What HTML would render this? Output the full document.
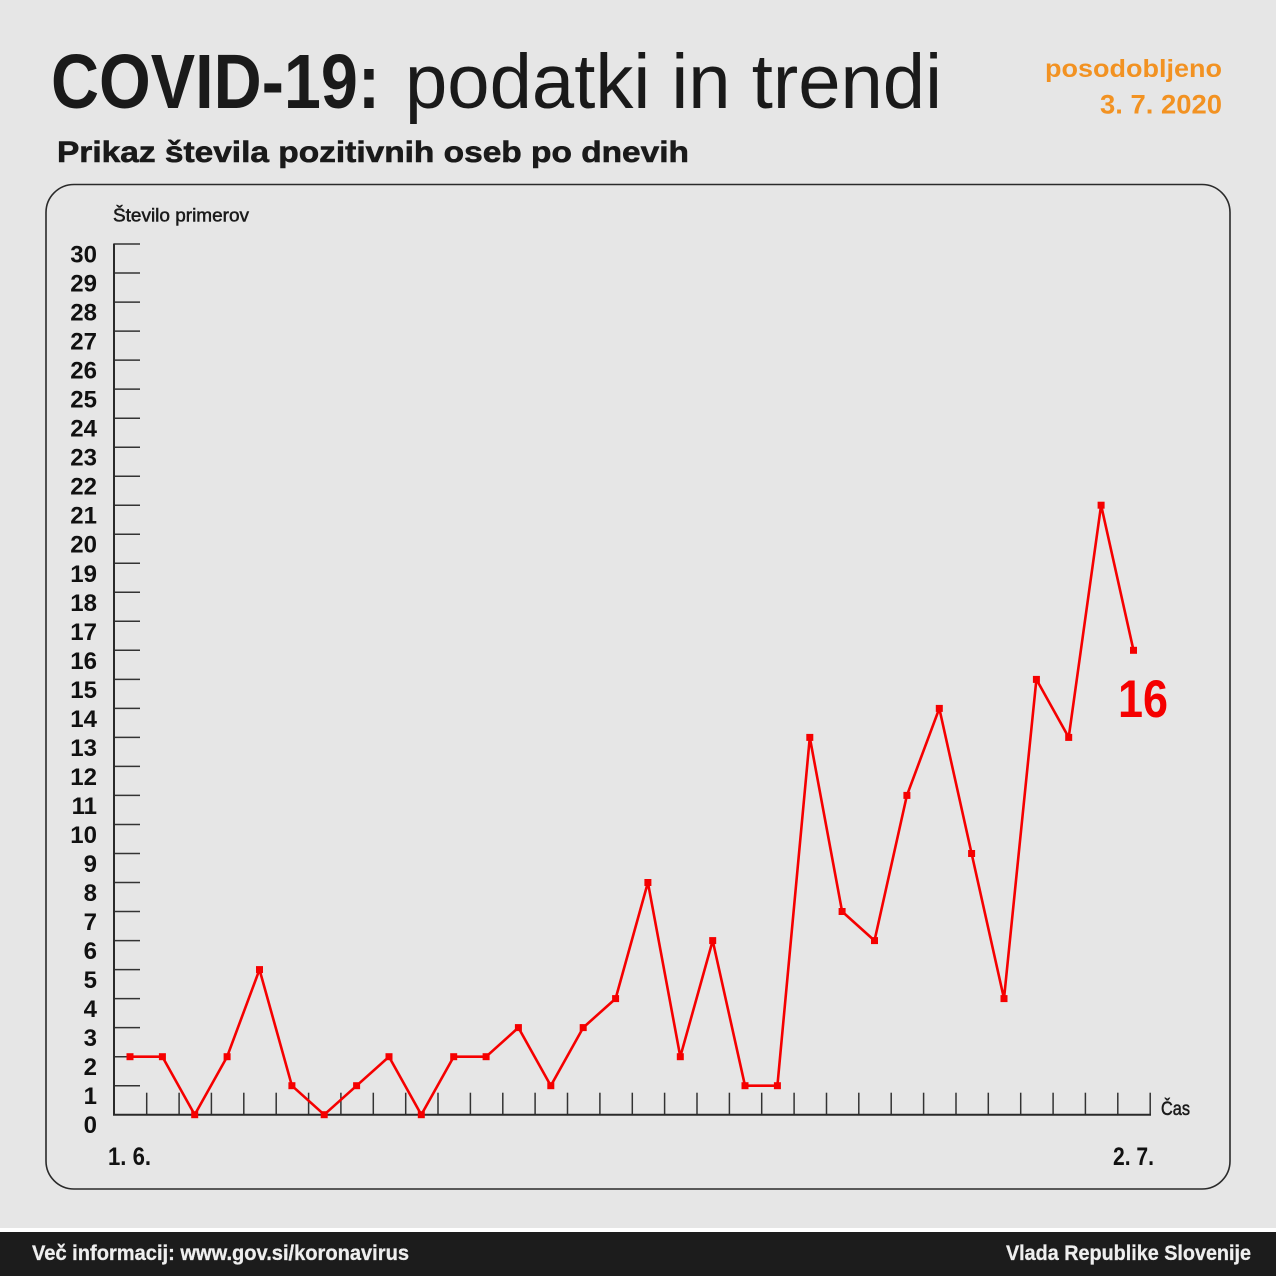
<!DOCTYPE html>
<html>
<head>
<meta charset="utf-8">
<style>
html,body{margin:0;padding:0;background:#e6e6e6;}
svg{display:block;}
text{font-family:"Liberation Sans",sans-serif;}
</style>
</head>
<body>
<svg width="1276" height="1276" viewBox="0 0 1276 1276" xmlns="http://www.w3.org/2000/svg">
<rect x="0" y="0" width="1276" height="1276" fill="#e6e6e6"/>
<rect x="0" y="1228" width="1276" height="4" fill="#ffffff"/>
<rect x="0" y="1232" width="1276" height="44" fill="#1c1c1c"/>

<!-- Title -->
<text x="51" y="108" font-size="77" font-weight="bold" fill="#1a1a1a" textLength="329" lengthAdjust="spacingAndGlyphs">COVID-19:</text>
<text x="405" y="108" font-size="77" font-weight="300" fill="#1a1a1a" textLength="537" lengthAdjust="spacingAndGlyphs">podatki in trendi</text>
<text x="57" y="162" font-size="30" font-weight="bold" fill="#1a1a1a" stroke="#1a1a1a" stroke-width="0.6" textLength="632" lengthAdjust="spacingAndGlyphs">Prikaz števila pozitivnih oseb po dnevih</text>
<text x="1222" y="77" font-size="25" font-weight="bold" fill="#f29222" text-anchor="end" textLength="177" lengthAdjust="spacingAndGlyphs">posodobljeno</text>
<text x="1222" y="113.5" font-size="27" font-weight="bold" fill="#f29222" text-anchor="end" textLength="122" lengthAdjust="spacingAndGlyphs">3. 7. 2020</text>

<!-- Chart frame -->
<rect x="46" y="184.5" width="1184" height="1004.5" rx="28" ry="28" fill="#e6e6e6" stroke="#2a2a2a" stroke-width="1.6"/>

<text x="113" y="221.7" font-size="18" fill="#1a1a1a" stroke="#1a1a1a" stroke-width="0.5" textLength="136" lengthAdjust="spacingAndGlyphs">Število primerov</text>

<!-- Y axis ticks -->
<g stroke="#333" stroke-width="1.5">
<line x1="114" y1="1114.7" x2="140" y2="1114.7"/>
<line x1="114" y1="1085.7" x2="140" y2="1085.7"/>
<line x1="114" y1="1056.7" x2="140" y2="1056.7"/>
<line x1="114" y1="1027.6" x2="140" y2="1027.6"/>
<line x1="114" y1="998.6" x2="140" y2="998.6"/>
<line x1="114" y1="969.6" x2="140" y2="969.6"/>
<line x1="114" y1="940.6" x2="140" y2="940.6"/>
<line x1="114" y1="911.5" x2="140" y2="911.5"/>
<line x1="114" y1="882.5" x2="140" y2="882.5"/>
<line x1="114" y1="853.5" x2="140" y2="853.5"/>
<line x1="114" y1="824.5" x2="140" y2="824.5"/>
<line x1="114" y1="795.4" x2="140" y2="795.4"/>
<line x1="114" y1="766.4" x2="140" y2="766.4"/>
<line x1="114" y1="737.4" x2="140" y2="737.4"/>
<line x1="114" y1="708.4" x2="140" y2="708.4"/>
<line x1="114" y1="679.4" x2="140" y2="679.4"/>
<line x1="114" y1="650.3" x2="140" y2="650.3"/>
<line x1="114" y1="621.3" x2="140" y2="621.3"/>
<line x1="114" y1="592.3" x2="140" y2="592.3"/>
<line x1="114" y1="563.3" x2="140" y2="563.3"/>
<line x1="114" y1="534.2" x2="140" y2="534.2"/>
<line x1="114" y1="505.2" x2="140" y2="505.2"/>
<line x1="114" y1="476.2" x2="140" y2="476.2"/>
<line x1="114" y1="447.2" x2="140" y2="447.2"/>
<line x1="114" y1="418.2" x2="140" y2="418.2"/>
<line x1="114" y1="389.1" x2="140" y2="389.1"/>
<line x1="114" y1="360.1" x2="140" y2="360.1"/>
<line x1="114" y1="331.1" x2="140" y2="331.1"/>
<line x1="114" y1="302.1" x2="140" y2="302.1"/>
<line x1="114" y1="273.0" x2="140" y2="273.0"/>
<line x1="114" y1="244.0" x2="140" y2="244.0"/>
</g>

<!-- X axis ticks -->
<g stroke="#333" stroke-width="1.5">
<line x1="146.7" y1="1092.7" x2="146.7" y2="1114.7"/>
<line x1="179.1" y1="1092.7" x2="179.1" y2="1114.7"/>
<line x1="211.4" y1="1092.7" x2="211.4" y2="1114.7"/>
<line x1="243.8" y1="1092.7" x2="243.8" y2="1114.7"/>
<line x1="276.2" y1="1092.7" x2="276.2" y2="1114.7"/>
<line x1="308.6" y1="1092.7" x2="308.6" y2="1114.7"/>
<line x1="340.9" y1="1092.7" x2="340.9" y2="1114.7"/>
<line x1="373.3" y1="1092.7" x2="373.3" y2="1114.7"/>
<line x1="405.7" y1="1092.7" x2="405.7" y2="1114.7"/>
<line x1="438.0" y1="1092.7" x2="438.0" y2="1114.7"/>
<line x1="470.4" y1="1092.7" x2="470.4" y2="1114.7"/>
<line x1="502.8" y1="1092.7" x2="502.8" y2="1114.7"/>
<line x1="535.1" y1="1092.7" x2="535.1" y2="1114.7"/>
<line x1="567.5" y1="1092.7" x2="567.5" y2="1114.7"/>
<line x1="599.9" y1="1092.7" x2="599.9" y2="1114.7"/>
<line x1="632.3" y1="1092.7" x2="632.3" y2="1114.7"/>
<line x1="664.6" y1="1092.7" x2="664.6" y2="1114.7"/>
<line x1="697.0" y1="1092.7" x2="697.0" y2="1114.7"/>
<line x1="729.4" y1="1092.7" x2="729.4" y2="1114.7"/>
<line x1="761.7" y1="1092.7" x2="761.7" y2="1114.7"/>
<line x1="794.1" y1="1092.7" x2="794.1" y2="1114.7"/>
<line x1="826.5" y1="1092.7" x2="826.5" y2="1114.7"/>
<line x1="858.8" y1="1092.7" x2="858.8" y2="1114.7"/>
<line x1="891.2" y1="1092.7" x2="891.2" y2="1114.7"/>
<line x1="923.6" y1="1092.7" x2="923.6" y2="1114.7"/>
<line x1="956.0" y1="1092.7" x2="956.0" y2="1114.7"/>
<line x1="988.3" y1="1092.7" x2="988.3" y2="1114.7"/>
<line x1="1020.7" y1="1092.7" x2="1020.7" y2="1114.7"/>
<line x1="1053.1" y1="1092.7" x2="1053.1" y2="1114.7"/>
<line x1="1085.4" y1="1092.7" x2="1085.4" y2="1114.7"/>
<line x1="1117.8" y1="1092.7" x2="1117.8" y2="1114.7"/>
<line x1="1150.2" y1="1092.7" x2="1150.2" y2="1114.7"/>
</g>

<!-- Axes -->
<line x1="114" y1="243.5" x2="114" y2="1115.5" stroke="#2a2a2a" stroke-width="2"/>
<line x1="113" y1="1114.7" x2="1151" y2="1114.7" stroke="#2a2a2a" stroke-width="2"/>

<!-- Y labels -->
<g font-size="24" font-weight="bold" fill="#111" text-anchor="end">
<text x="97" y="1133.2">0</text>
<text x="97" y="1104.2">1</text>
<text x="97" y="1075.2">2</text>
<text x="97" y="1046.1">3</text>
<text x="97" y="1017.1">4</text>
<text x="97" y="988.1">5</text>
<text x="97" y="959.1">6</text>
<text x="97" y="930.0">7</text>
<text x="97" y="901.0">8</text>
<text x="97" y="872.0">9</text>
<text x="97" y="843.0">10</text>
<text x="97" y="813.9">11</text>
<text x="97" y="784.9">12</text>
<text x="97" y="755.9">13</text>
<text x="97" y="726.9">14</text>
<text x="97" y="697.9">15</text>
<text x="97" y="668.8">16</text>
<text x="97" y="639.8">17</text>
<text x="97" y="610.8">18</text>
<text x="97" y="581.8">19</text>
<text x="97" y="552.7">20</text>
<text x="97" y="523.7">21</text>
<text x="97" y="494.7">22</text>
<text x="97" y="465.7">23</text>
<text x="97" y="436.7">24</text>
<text x="97" y="407.6">25</text>
<text x="97" y="378.6">26</text>
<text x="97" y="349.6">27</text>
<text x="97" y="320.6">28</text>
<text x="97" y="291.5">29</text>
<text x="97" y="262.5">30</text>
</g>

<text x="1161" y="1115" font-size="19" fill="#1a1a1a" stroke="#1a1a1a" stroke-width="0.5" textLength="29" lengthAdjust="spacingAndGlyphs">Čas</text>
<text x="108" y="1165" font-size="25" font-weight="bold" fill="#111" textLength="43" lengthAdjust="spacingAndGlyphs">1. 6.</text>
<text x="1113" y="1165" font-size="25" font-weight="bold" fill="#111" textLength="41" lengthAdjust="spacingAndGlyphs">2. 7.</text>

<!-- Series -->
<polyline fill="none" stroke="#f50000" stroke-width="2.6" stroke-linejoin="round"
points="130,1056.7 162.4,1056.7 194.7,1114.7 227.1,1056.7 259.5,969.6 291.9,1085.7 324.2,1114.7 356.6,1085.7 389,1056.7 421.3,1114.7 453.7,1056.7 486.1,1056.7 518.4,1027.6 550.8,1085.7 583.2,1027.6 615.6,998.6 647.9,882.5 680.3,1056.7 712.7,940.6 745,1085.7 777.4,1085.7 809.8,737.4 842.1,911.5 874.5,940.6 906.9,795.4 939.3,708.4 971.6,853.5 1004,998.6 1036.4,679.4 1068.7,737.4 1101.1,505.2 1133.5,650.3"/>
<g fill="#f50000">
<rect x="126.5" y="1053.2" width="7" height="7"/>
<rect x="158.9" y="1053.2" width="7" height="7"/>
<rect x="191.2" y="1111.2" width="7" height="7"/>
<rect x="223.6" y="1053.2" width="7" height="7"/>
<rect x="256" y="966.1" width="7" height="7"/>
<rect x="288.4" y="1082.2" width="7" height="7"/>
<rect x="320.7" y="1111.2" width="7" height="7"/>
<rect x="353.1" y="1082.2" width="7" height="7"/>
<rect x="385.5" y="1053.2" width="7" height="7"/>
<rect x="417.8" y="1111.2" width="7" height="7"/>
<rect x="450.2" y="1053.2" width="7" height="7"/>
<rect x="482.6" y="1053.2" width="7" height="7"/>
<rect x="514.9" y="1024.1" width="7" height="7"/>
<rect x="547.3" y="1082.2" width="7" height="7"/>
<rect x="579.7" y="1024.1" width="7" height="7"/>
<rect x="612.1" y="995.1" width="7" height="7"/>
<rect x="644.4" y="879" width="7" height="7"/>
<rect x="676.8" y="1053.2" width="7" height="7"/>
<rect x="709.2" y="937.1" width="7" height="7"/>
<rect x="741.5" y="1082.2" width="7" height="7"/>
<rect x="773.9" y="1082.2" width="7" height="7"/>
<rect x="806.3" y="733.9" width="7" height="7"/>
<rect x="838.6" y="908" width="7" height="7"/>
<rect x="871" y="937.1" width="7" height="7"/>
<rect x="903.4" y="791.9" width="7" height="7"/>
<rect x="935.8" y="704.9" width="7" height="7"/>
<rect x="968.1" y="850" width="7" height="7"/>
<rect x="1000.5" y="995.1" width="7" height="7"/>
<rect x="1032.9" y="675.9" width="7" height="7"/>
<rect x="1065.2" y="733.9" width="7" height="7"/>
<rect x="1097.6" y="501.7" width="7" height="7"/>
<rect x="1130" y="646.8" width="7" height="7"/>
</g>

<text x="1118" y="717" font-size="53" font-weight="bold" fill="#f50000" textLength="50" lengthAdjust="spacingAndGlyphs">16</text>

<!-- Footer -->
<text x="32" y="1260" font-size="21" font-weight="bold" fill="#eeeeee" stroke="#eeeeee" stroke-width="0.3" textLength="377" lengthAdjust="spacingAndGlyphs">Več informacij: www.gov.si/koronavirus</text>
<text x="1006" y="1260" font-size="21" font-weight="bold" fill="#eeeeee" stroke="#eeeeee" stroke-width="0.3" textLength="245" lengthAdjust="spacingAndGlyphs">Vlada Republike Slovenije</text>
</svg>
</body>
</html>
